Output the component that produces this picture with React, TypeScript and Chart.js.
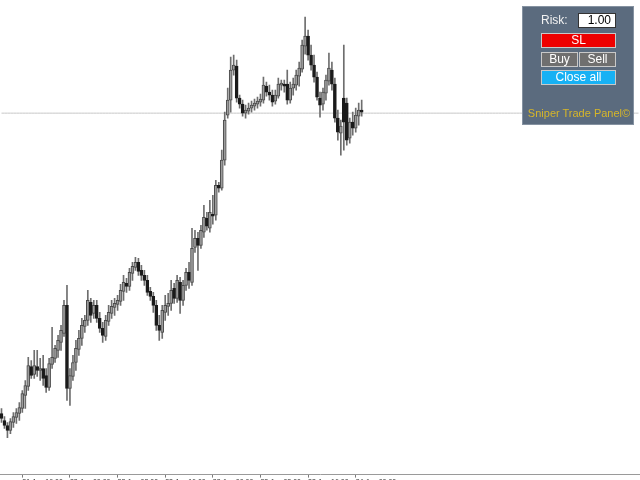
import React, { useEffect, useRef } from "react";
import { Chart, registerables } from "chart.js";

Chart.register(...registerables);

const opens = [
  1587, 1580, 1575, 1570, 1578, 1583, 1587, 1592, 1605, 1614, 1634, 1626, 1634, 1630, 1632, 1625, 1613, 1636, 1642, 1650,
  1658, 1667, 1695, 1612, 1624, 1638, 1651, 1662, 1674, 1680, 1698, 1687, 1695, 1682, 1672, 1664, 1679, 1687, 1693, 1696,
  1699, 1709, 1717, 1714, 1727, 1733, 1738, 1730, 1725, 1720, 1709, 1704, 1695, 1675, 1668, 1688, 1694, 1697, 1712, 1702,
  1718, 1700, 1715, 1728, 1718, 1753, 1762, 1755, 1768, 1782, 1772, 1786, 1785, 1815, 1812, 1840, 1885, 1900, 1930, 1934,
  1902, 1896, 1887, 1889, 1892, 1894, 1896, 1898, 1900, 1914, 1908, 1905, 1899, 1904, 1915, 1916, 1916, 1900, 1912, 1915,
  1924, 1931, 1954, 1964, 1945, 1935, 1923, 1902, 1896, 1907, 1919, 1930, 1916, 1882, 1867, 1902, 1897, 1862, 1878, 1872,
  1884, 1890,
];
const highs = [
  1592, 1584, 1578, 1582, 1588, 1592, 1598, 1610, 1620, 1643, 1640, 1650, 1650, 1642, 1645, 1632, 1642, 1673, 1655, 1665,
  1675, 1700, 1715, 1632, 1645, 1660, 1670, 1682, 1685, 1710, 1702, 1700, 1700, 1688, 1678, 1685, 1695, 1700, 1702, 1705,
  1716, 1725, 1722, 1732, 1738, 1743, 1742, 1735, 1730, 1725, 1713, 1708, 1700, 1685, 1695, 1705, 1707, 1720, 1717, 1725,
  1723, 1720, 1732, 1738, 1772, 1770, 1768, 1775, 1795, 1788, 1800, 1805, 1820, 1818, 1850, 1888, 1912, 1943, 1945, 1940,
  1905, 1900, 1895, 1897, 1899, 1901, 1903, 1906, 1923, 1918, 1915, 1910, 1910, 1922, 1920, 1920, 1930, 1918, 1922, 1930,
  1938, 1960, 1983, 1970, 1955, 1945, 1928, 1908, 1912, 1925, 1947, 1938, 1922, 1890, 1880, 1955, 1902, 1882, 1888, 1892,
  1897, 1900,
];
const lows = [
  1578, 1572, 1563, 1567, 1573, 1577, 1580, 1588, 1592, 1610, 1622, 1622, 1624, 1620, 1615, 1608, 1610, 1632, 1638, 1643,
  1650, 1664, 1600, 1595, 1620, 1630, 1645, 1655, 1668, 1675, 1678, 1682, 1678, 1668, 1658, 1660, 1675, 1682, 1685, 1690,
  1695, 1700, 1708, 1710, 1720, 1730, 1725, 1720, 1715, 1705, 1700, 1688, 1670, 1660, 1662, 1680, 1685, 1690, 1697, 1698,
  1687, 1695, 1710, 1712, 1715, 1748, 1730, 1752, 1763, 1770, 1768, 1776, 1780, 1808, 1810, 1835, 1882, 1888, 1925, 1898,
  1892, 1884, 1882, 1886, 1888, 1890, 1892, 1894, 1897, 1904, 1900, 1894, 1896, 1902, 1910, 1908, 1896, 1897, 1905, 1910,
  1914, 1928, 1946, 1940, 1930, 1918, 1900, 1883, 1890, 1900, 1915, 1910, 1878, 1860, 1845, 1850, 1855, 1857, 1865, 1868,
  1875, 1884,
];
const closes = [
  1582, 1575, 1570, 1579, 1584, 1588, 1593, 1607, 1615, 1635, 1625, 1635, 1630, 1632, 1622, 1613, 1637, 1643, 1652, 1660,
  1670, 1695, 1612, 1625, 1638, 1652, 1662, 1675, 1680, 1700, 1685, 1695, 1682, 1672, 1665, 1680, 1688, 1694, 1697, 1700,
  1710, 1718, 1714, 1728, 1734, 1738, 1729, 1725, 1720, 1708, 1704, 1695, 1675, 1670, 1690, 1695, 1697, 1710, 1702, 1720,
  1700, 1715, 1728, 1720, 1752, 1762, 1755, 1770, 1783, 1774, 1788, 1784, 1815, 1812, 1840, 1880, 1900, 1930, 1935, 1902,
  1896, 1887, 1890, 1892, 1895, 1897, 1899, 1901, 1915, 1908, 1905, 1898, 1905, 1916, 1917, 1914, 1900, 1912, 1916, 1925,
  1932, 1955, 1964, 1945, 1935, 1923, 1903, 1895, 1908, 1920, 1932, 1916, 1882, 1868, 1874, 1878, 1860, 1878, 1872, 1885,
  1890, 1888,
];

const bidLevel = 1887;
const tickLabels = [
  "21 Jan 16:00",
  "22 Jan 00:00",
  "22 Jan 08:00",
  "22 Jan 16:00",
  "23 Jan 00:00",
  "23 Jan 08:00",
  "23 Jan 16:00",
  "24 Jan 00:00",
];
const firstTickBar = 7;
const barsPerTick = 16;
const totalSlots = 215;
const priceMin = 1526;
const priceMax = 2000;

export default function App() {
  const canvasRef = useRef<HTMLCanvasElement | null>(null);

  useEffect(() => {
    const canvas = canvasRef.current;
    if (!canvas) return;
    const slots = Array.from({ length: totalSlots }, (_, i) => String(i));
    const isBull = opens.map((o, i) => closes[i] >= o);
    const chart = new Chart(canvas, {
      type: "bar",
      data: {
        labels: slots,
        datasets: [
          {
            type: "bar",
            label: "body",
            data: opens.map((o, i) => [o, closes[i]]),
            backgroundColor: isBull.map((b) => (b ? "#9c9c9c" : "#1a1a1a")),
            borderColor: isBull.map((b) => (b ? "#4a4a4a" : "#1a1a1a")),
            borderWidth: 1,
            borderSkipped: false,
            barThickness: 3,
            minBarLength: 1,
            grouped: false,
            order: 1,
          } as any,
          {
            type: "bar",
            label: "wick",
            data: lows.map((l, i) => [l, highs[i]]),
            backgroundColor: "#6e6e6e",
            borderWidth: 0,
            barThickness: 1,
            grouped: false,
            order: 2,
          } as any,
          {
            type: "line",
            label: "bid",
            data: slots.map(() => bidLevel),
            borderColor: "#c8c8c8",
            borderWidth: 1,
            pointRadius: 0,
            order: 3,
          } as any,
        ],
      },
      options: {
        animation: false,
        responsive: false,
        maintainAspectRatio: false,
        layout: { padding: 0 },
        plugins: { legend: { display: false }, tooltip: { enabled: false } },
        scales: {
          x: {
            type: "category",
            offset: true,
            grid: {
              display: true,
              drawOnChartArea: false,
              drawTicks: true,
              tickLength: 3,
              color: "#7a7a7a",
              offset: false,
            },
            border: { display: true, color: "#9a9a9a", width: 1 },
            ticks: {
              autoSkip: false,
              maxRotation: 0,
              minRotation: 0,
              align: "start",
              padding: 0,
              color: "#333333",
              font: { size: 7, family: "Liberation Sans" },
              callback: (_v: any, i: number) => {
                const k = i - firstTickBar;
                if (k >= 0 && k % barsPerTick === 0) {
                  const t = tickLabels[k / barsPerTick];
                  return t === undefined ? null : t;
                }
                return null;
              },
            },
          },
          y: {
            display: false,
            min: priceMin,
            max: priceMax,
          },
        },
      } as any,
    });
    return () => chart.destroy();
  }, []);

  const btn: React.CSSProperties = {
    position: "absolute",
    boxSizing: "border-box",
    color: "#ffffff",
    fontFamily: "Liberation Sans, Arial, sans-serif",
    fontSize: 12,
    lineHeight: "13px",
    textAlign: "center",
  };

  return (
    <div
      style={{
        position: "fixed",
        left: 0,
        top: 0,
        width: 640,
        height: 480,
        overflow: "hidden",
        background: "#ffffff",
      }}
    >
      <canvas ref={canvasRef} width={640} height={486} style={{ display: "block", width: 640, height: 486 }} />
      <div
        style={{
          position: "absolute",
          left: 522,
          top: 6,
          width: 112,
          height: 119,
          boxSizing: "border-box",
          background: "#5b6b7e",
          border: "1px solid #8592a1",
        }}
      >
        <div style={{ ...btn, left: 18, top: 7, width: 36, textAlign: "left", color: "#f2f2f2" }}>Risk:</div>
        <div
          style={{
            ...btn,
            left: 55,
            top: 6,
            width: 38,
            height: 15,
            background: "#ffffff",
            border: "1px solid #333",
            color: "#000",
            textAlign: "right",
            paddingRight: 4,
          }}
        >
          1.00
        </div>
        <div style={{ ...btn, left: 18, top: 26, width: 75, height: 15, background: "#ee0000", border: "1px solid #c8c8c8" }}>
          SL
        </div>
        <div style={{ ...btn, left: 18, top: 45, width: 37, height: 15, background: "#6f6f6f", border: "1px solid #c8c8c8" }}>
          Buy
        </div>
        <div style={{ ...btn, left: 56, top: 45, width: 37, height: 15, background: "#6f6f6f", border: "1px solid #c8c8c8" }}>
          Sell
        </div>
        <div style={{ ...btn, left: 18, top: 63, width: 75, height: 15, background: "#17b1f4", border: "1px solid #c8c8c8" }}>
          Close all
        </div>
        <div style={{ ...btn, left: 0, top: 100, width: 112, fontSize: 11, color: "#d6b62a" }}>Sniper Trade Panel©</div>
      </div>
    </div>
  );
}
